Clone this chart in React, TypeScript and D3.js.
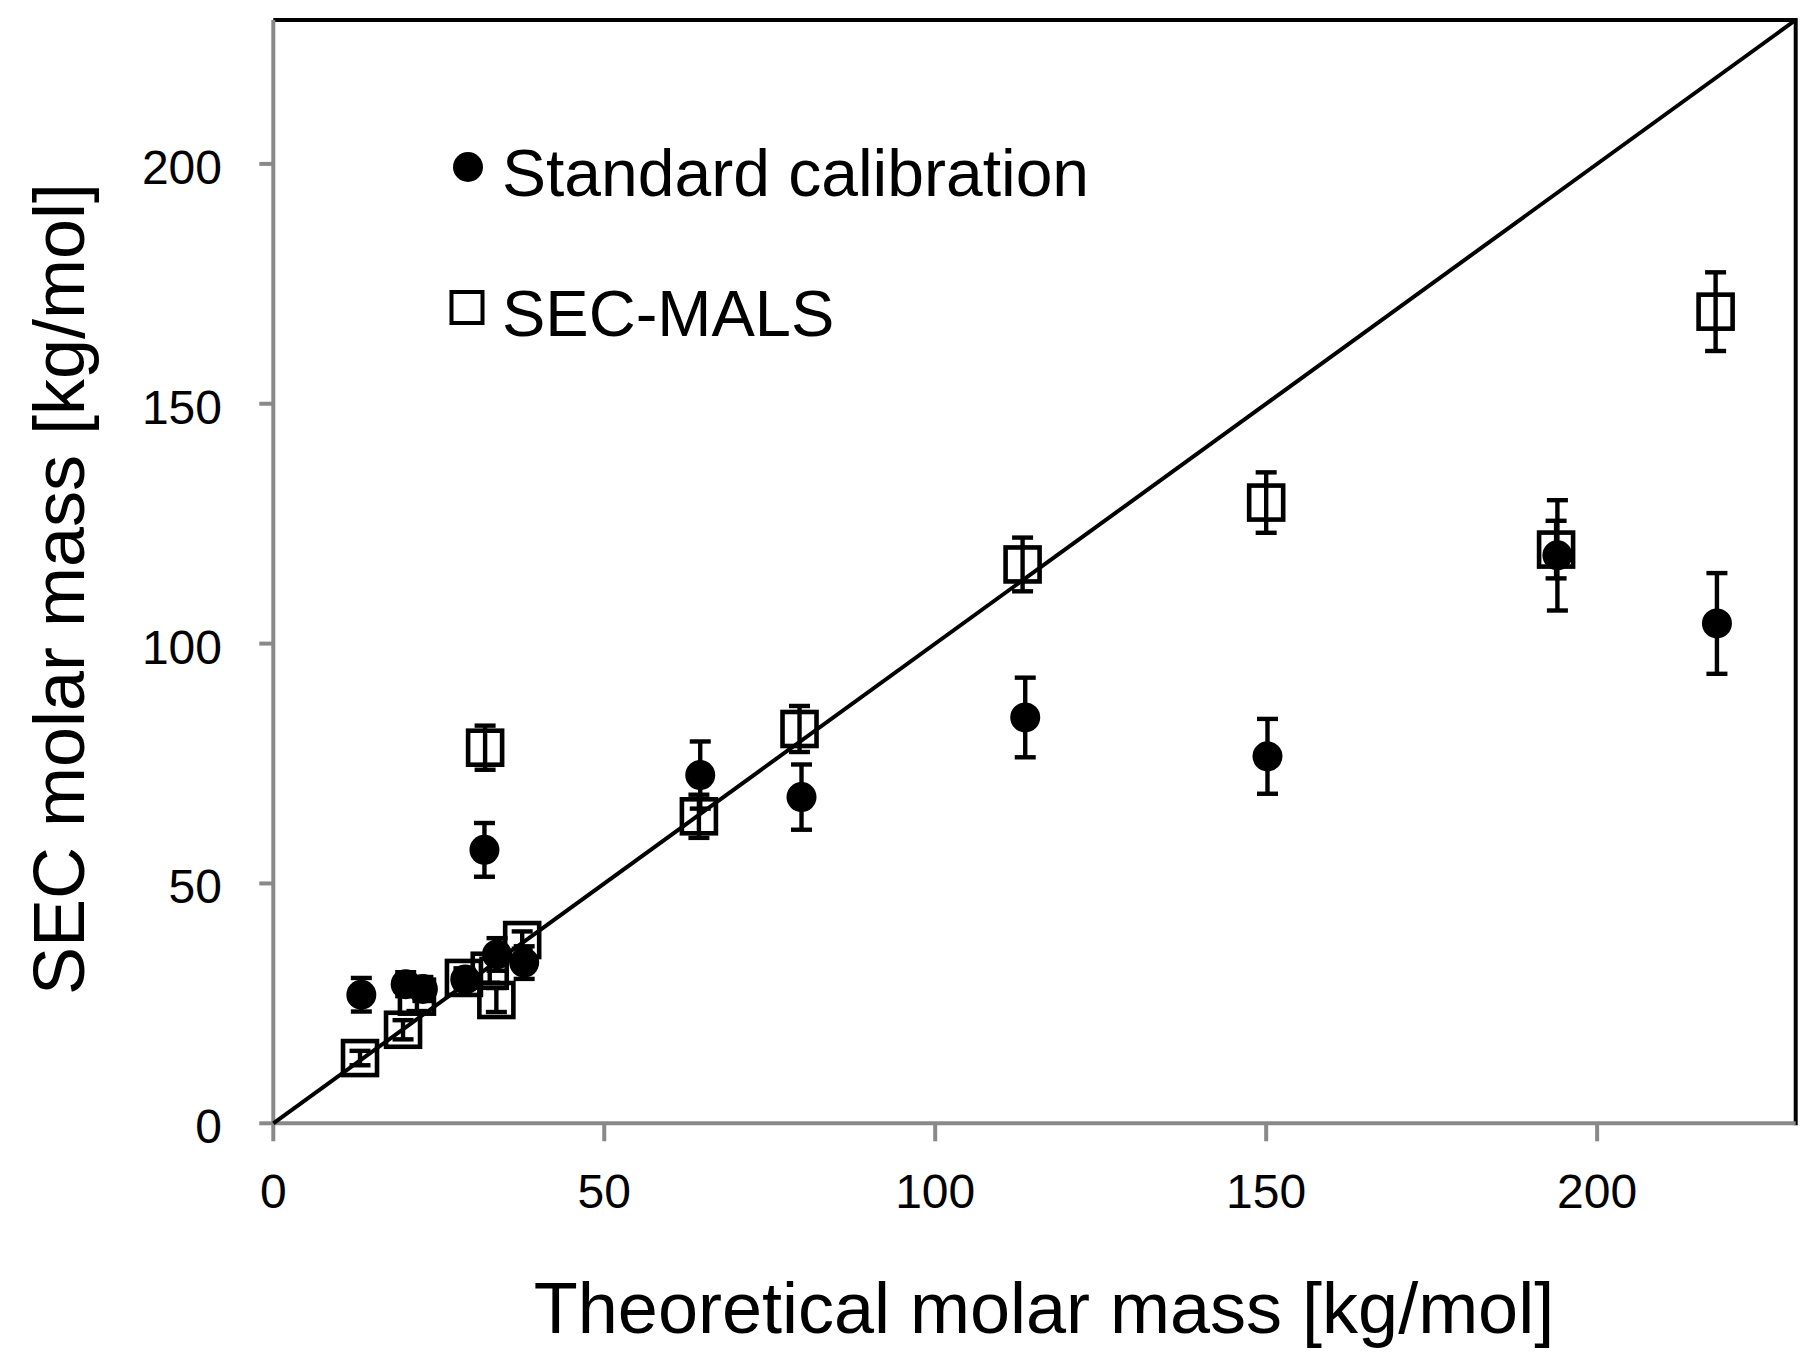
import { useEffect } from "react";
import * as d3 from "d3";

// Standard calibration (filled circles)
const standardX = [13.3, 20.0, 22.6, 29.0, 31.9, 33.8, 37.9, 64.5, 79.8, 113.6, 150.2, 194.0, 218.1];
const standardY = [26.8, 29.0, 28.0, 30.0, 57.0, 35.2, 33.5, 72.6, 68.0, 84.6, 76.5, 118.4, 104.2];
const standardErr = [3.5, 2.5, 2.5, 2.0, 5.6, 3.4, 3.4, 7.0, 6.8, 8.3, 7.8, 11.5, 10.5];

// SEC-MALS (open squares)
const malsX = [13.1, 19.6, 21.7, 28.8, 32.0, 32.7, 33.7, 37.6, 64.3, 79.5, 113.2, 150.0, 193.8, 217.9];
const malsY = [13.6, 19.5, 26.4, 30.3, 78.3, 31.8, 25.7, 38.2, 64.0, 82.2, 116.5, 129.4, 119.6, 169.2];
const malsErr = [1.5, 2.0, 3.0, 2.0, 4.6, 2.5, 2.5, 1.8, 4.5, 4.8, 5.6, 6.3, 6.0, 8.2];

const xTicks = [0, 50, 100, 150, 200];
const yTicks = [0, 50, 100, 150, 200];
const axisMax = 230;

const W = 1819;
const H = 1367;
const font = '"Liberation Sans", Arial, Helvetica, sans-serif';

const App = () => {
  useEffect(() => {
    document.body.style.margin = "0";
  }, []);

  const left = 273.3;
  const right = 1795.7;
  const top = 20;
  const bottom = 1123.3;

  const x = d3.scaleLinear().domain([0, axisMax]).range([left, right]);
  const y = d3.scaleLinear().domain([0, axisMax]).range([bottom, top]);

  const grey = "#898989";
  const capW = 10.5;
  const circleR = 15;
  const sq = 34;

  const errBar = (cx: number, v: number, e: number, key: string) => {
    const y1 = y(v + e);
    const y2 = y(v - e);
    return (
      <g key={key} stroke="#000" strokeWidth={4.4}>
        <line x1={cx} x2={cx} y1={y1} y2={y2} />
        <line x1={cx - capW} x2={cx + capW} y1={y1} y2={y1} />
        <line x1={cx - capW} x2={cx + capW} y1={y2} y2={y2} />
      </g>
    );
  };

  return (
    <svg width={W} height={H} style={{ display: "block", background: "#fff" }} fontFamily={font}>
      <rect width={W} height={H} fill="#fff" />

      {/* ticks */}
      {xTicks.map((t) => (
        <line key={"xt" + t} x1={x(t)} x2={x(t)} y1={bottom} y2={bottom + 18} stroke={grey} strokeWidth={4} />
      ))}
      {yTicks.map((t) => (
        <line key={"yt" + t} x1={left - 14} x2={left} y1={y(t)} y2={y(t)} stroke={grey} strokeWidth={4} />
      ))}

      {/* frame */}
      <line x1={left} x2={right} y1={top} y2={top} stroke="#000" strokeWidth={4} />
      <line x1={right} x2={right} y1={top - 2} y2={bottom + 2} stroke="#000" strokeWidth={4} />
      <line x1={left} x2={left} y1={top} y2={bottom} stroke={grey} strokeWidth={4} />
      <line x1={left} x2={right} y1={bottom} y2={bottom} stroke={grey} strokeWidth={4} />

      {/* y = x line */}
      <line x1={x(0)} y1={y(0)} x2={x(axisMax)} y2={y(axisMax)} stroke="#000" strokeWidth={4} />

      {/* SEC-MALS */}
      {malsX.map((v, i) => errBar(x(v), malsY[i], malsErr[i], "me" + i))}
      {malsX.map((v, i) => (
        <rect
          key={"m" + i}
          x={x(v) - sq / 2}
          y={y(malsY[i]) - sq / 2}
          width={sq}
          height={sq}
          fill="none"
          stroke="#000"
          strokeWidth={4.6}
        />
      ))}

      {/* Standard calibration */}
      {standardX.map((v, i) => errBar(x(v), standardY[i], standardErr[i], "se" + i))}
      {standardX.map((v, i) => (
        <circle key={"s" + i} cx={x(v)} cy={y(standardY[i])} r={circleR} fill="#000" />
      ))}

      {/* tick labels */}
      {xTicks.map((t) => (
        <text key={"xl" + t} x={x(t)} y={1208} fontSize={48} textAnchor="middle" fill="#000">
          {t}
        </text>
      ))}
      {yTicks.map((t) => (
        <text key={"yl" + t} x={222} y={y(t) + 20} fontSize={48} textAnchor="end" fill="#000">
          {t}
        </text>
      ))}

      {/* legend */}
      <circle cx={468} cy={167} r={15} fill="#000" />
      <text x={502} y={196} fontSize={66} fill="#000">
        Standard calibration
      </text>
      <rect x={467 - 15.5} y={307.5 - 15.5} width={31} height={31} fill="none" stroke="#000" strokeWidth={4} />
      <text x={502} y={336} fontSize={65} fill="#000">
        SEC-MALS
      </text>

      {/* axis titles */}
      <text x={1044} y={1333} fontSize={72} textAnchor="middle" fill="#000">
        Theoretical molar mass [kg/mol]
      </text>
      <text transform="translate(84,589) rotate(-90)" fontSize={72} textAnchor="middle" fill="#000">
        SEC molar mass [kg/mol]
      </text>
    </svg>
  );
};

export default App;
